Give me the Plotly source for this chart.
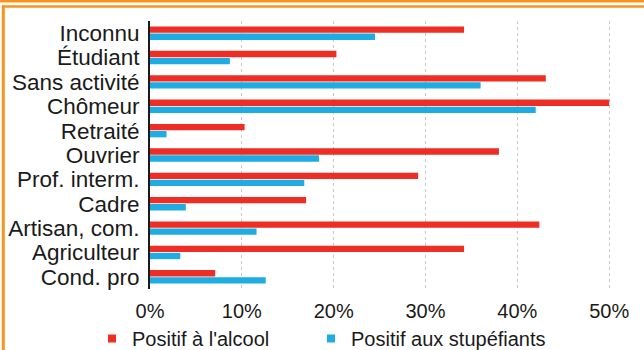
import plotly.graph_objects as go

categories = ["Inconnu", "Étudiant", "Sans activité", "Chômeur", "Retraité", "Ouvrier",
              "Prof. interm.", "Cadre", "Artisan, com.", "Agriculteur", "Cond. pro"]
alcool = [34.2, 20.3, 43.1, 50.0, 10.3, 38.0, 29.2, 17.0, 42.4, 34.2, 7.1]
stupefiants = [24.5, 8.7, 36.0, 42.0, 1.8, 18.4, 16.8, 3.9, 11.6, 3.3, 12.6]
series_names = ["Positif à l'alcool", "Positif aux stupéfiants"]
x_ticks = [0, 10, 20, 30, 40, 50]
x_tick_labels = ["0%", "10%", "20%", "30%", "40%", "50%"]

RED = "#EE2E24"
BLUE = "#1EACE2"
ORANGE = "#F7941D"
FONT = "Liberation Sans, Arial, sans-serif"

W, H = 644, 350
L, R, T, B = 150, 33, 21, 61
PW, PH = W - L - R, H - T - B


def px_x(px):
    return (px - L) / PW


def px_y(py):
    return (H - B - py) / PH


fig = go.Figure()
for name, vals, col in [(series_names[0], alcool, RED), (series_names[1], stupefiants, BLUE)]:
    fig.add_trace(go.Bar(y=categories, x=vals, orientation="h", marker_color=col,
                         marker_line_width=0, showlegend=False, name=name))
for name, col, leg in [(series_names[0], RED, "legend"), (series_names[1], BLUE, "legend2")]:
    fig.add_trace(go.Scatter(x=[None], y=[None], mode="markers", name=name, legend=leg,
                             marker=dict(symbol="square", size=8, color=col)))

shapes = [
    dict(type="line", xref="paper", yref="paper", x0=px_x(0), x1=px_x(W), y0=px_y(1.2), y1=px_y(1.2),
         line=dict(color=ORANGE, width=2.5)),
    dict(type="line", xref="paper", yref="paper", x0=px_x(2), x1=px_x(W), y0=px_y(6.5), y1=px_y(6.5),
         line=dict(color=ORANGE, width=2.5)),
    dict(type="line", xref="paper", yref="paper", x0=px_x(3.3), x1=px_x(3.3), y0=px_y(5.3), y1=px_y(H),
         line=dict(color=ORANGE, width=3)),
]

legend_common = dict(orientation="h", yanchor="top", xanchor="left", itemwidth=30,
                     font=dict(size=20, family=FONT, color="#1a1a1a"),
                     bgcolor="rgba(0,0,0,0)")

fig.update_layout(
    width=W, height=H,
    margin=dict(l=L, r=R, t=T, b=B, autoexpand=False),
    paper_bgcolor="white", plot_bgcolor="white",
    barmode="group", bargap=0.42, bargroupgap=0.1,
    font=dict(family=FONT, color="#1a1a1a", size=20),
    xaxis=dict(range=[0, 50.2], tickmode="array", tickvals=x_ticks, ticktext=x_tick_labels,
               showgrid=True, automargin=False,
               gridcolor="#c8c8c8", griddash="dot", gridwidth=1, zeroline=False,
               showline=False, ticks="", ticklabelstandoff=8,
               tickfont=dict(size=20, family=FONT, color="#1a1a1a")),
    yaxis=dict(autorange="reversed", tickmode="array", tickvals=categories, automargin=False,
               showline=True, linecolor="#1a1a1a", linewidth=2,
               showgrid=False, zeroline=False, ticks="", ticklabelstandoff=4,
               tickfont=dict(size=22.5, family=FONT, color="#1a1a1a")),
    legend=dict(x=px_x(92), y=px_y(319), **legend_common),
    legend2=dict(x=px_x(311), y=px_y(319), **legend_common),
    shapes=shapes,
)

fig.write_html("out.html", config={"displayModeBar": False},
               post_script="document.body.style.margin='0';")
